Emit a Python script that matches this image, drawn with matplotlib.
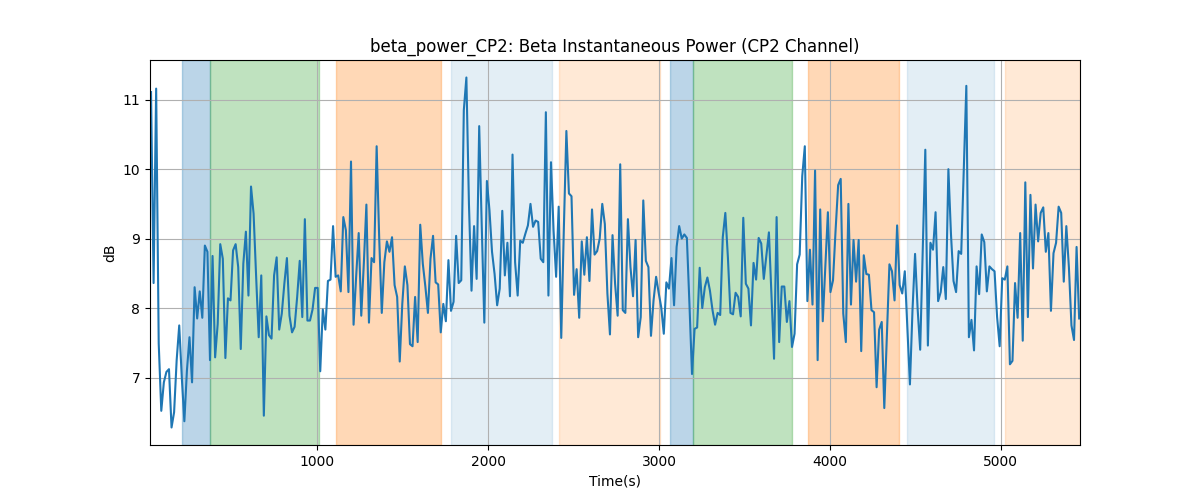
import numpy as np
import matplotlib
matplotlib.use("Agg")
import matplotlib.pyplot as plt

# beta power values (dB), one sample every ~15 s
beta_db = [
    11.11, 8.36, 11.16, 7.49, 6.52, 6.93, 7.08, 7.12, 6.28, 6.50,
    7.25, 7.75, 7.00, 6.37, 7.10, 7.58, 6.93, 8.30, 7.85, 8.24,
    7.86, 8.90, 8.81, 7.25, 8.75, 7.29, 7.77, 8.92, 8.71, 7.28,
    8.14, 8.11, 8.83, 8.92, 8.59, 7.41, 8.64, 9.10, 8.18, 9.75,
    9.36, 8.45, 7.58, 8.47, 6.45, 7.88, 7.61, 7.56, 8.47, 8.73,
    7.69, 7.92, 8.35, 8.72, 7.89, 7.65, 7.73, 8.16, 8.68, 7.87,
    9.28, 7.82, 7.82, 7.98, 8.29, 8.29, 7.09, 7.98, 7.69, 8.39,
    8.41, 9.18, 8.45, 8.47, 8.24, 9.31, 9.12, 8.23, 10.11, 7.76,
    8.45, 9.08, 7.89, 8.64, 9.49, 7.79, 8.72, 8.66, 10.33, 9.00,
    7.93, 8.66, 8.96, 8.81, 9.02, 8.33, 8.16, 7.23, 8.06, 8.60,
    8.33, 7.48, 7.45, 8.16, 7.51, 9.20, 8.64, 8.31, 7.93, 8.71,
    9.04, 8.37, 8.34, 7.65, 8.06, 7.81, 8.69, 7.96, 8.09, 9.04,
    8.36, 8.40, 10.85, 11.32, 9.50, 8.25, 9.18, 8.42, 10.62, 9.17,
    7.79, 9.83, 9.41, 8.81, 8.49, 8.04, 8.28, 9.40, 8.47, 8.94,
    8.17, 10.21, 8.66, 8.18, 8.97, 8.94, 9.07, 9.19, 9.50, 9.17,
    9.26, 9.24, 8.71, 8.66, 10.82, 8.18, 10.10, 9.12, 8.45, 9.46,
    7.57, 9.12, 10.55, 9.65, 9.61, 8.19, 8.56, 7.86, 8.96, 8.48,
    9.02, 8.39, 9.42, 8.77, 8.82, 9.00, 9.50, 9.21, 8.21, 7.62,
    9.05, 8.35, 7.89, 10.07, 7.97, 7.93, 9.28, 8.59, 8.17, 8.98,
    7.58, 7.87, 9.55, 8.68, 8.59, 7.60, 8.11, 8.45, 8.22, 8.01,
    7.63, 8.37, 8.28, 8.72, 8.04, 8.88, 9.18, 9.00, 9.06, 9.01,
    8.06, 7.05, 7.70, 7.72, 8.58, 8.00, 8.30, 8.44, 8.25, 7.97,
    7.76, 7.93, 7.90, 9.02, 9.37, 8.73, 7.93, 7.91, 8.22, 8.16,
    7.88, 9.30, 8.35, 8.28, 7.75, 8.65, 8.41, 9.01, 8.93, 8.42,
    8.76, 9.09, 8.16, 7.27, 9.31, 7.51, 8.31, 8.31, 7.80, 8.10,
    7.44, 7.63, 8.63, 8.77, 9.90, 10.33, 8.10, 8.84, 8.05, 9.98,
    7.25, 9.42, 7.81, 8.59, 9.38, 8.23, 8.40, 9.12, 9.77, 9.86,
    7.92, 7.51, 9.50, 8.05, 8.98, 8.38, 8.98, 7.38, 8.76, 8.49,
    8.48, 7.97, 7.94, 6.86, 7.69, 7.80, 6.56, 7.58, 8.63, 8.53,
    8.11, 9.19, 8.33, 8.21, 8.53, 7.73, 6.90, 7.97, 8.78, 7.99,
    7.40, 8.83, 10.28, 7.46, 8.94, 8.84, 9.38, 8.10, 8.23, 8.59,
    8.13, 10.00, 9.07, 8.39, 8.23, 8.82, 8.78, 9.98, 11.20, 7.58,
    7.83, 7.39, 8.60, 8.20, 9.06, 8.95, 8.24, 8.60, 8.56, 8.53,
    7.87, 7.45, 8.43, 8.41, 8.60, 7.19, 7.24, 8.36, 7.86, 9.08,
    7.53, 9.81, 7.87, 9.63, 8.57, 9.49, 8.96, 9.37, 9.45, 8.81,
    9.08, 7.96, 8.79, 8.94, 9.46, 9.37, 8.38, 9.18, 8.59, 7.75,
    7.54, 8.88, 7.85,
]
t_first = 28
t_step = 15.0
x_min, x_max = 22, 5463

# shaded task blocks: (start, end, colour, alpha)
blocks = [
    (209, 373, "tab:blue", 0.3),
    (373, 1012, "tab:green", 0.3),
    (1111, 1726, "tab:orange", 0.3),
    (1785, 2376, "tab:blue", 0.12),
    (2417, 3003, "tab:orange", 0.17),
    (3062, 3196, "tab:blue", 0.3),
    (3196, 3776, "tab:green", 0.3),
    (3870, 4403, "tab:orange", 0.3),
    (4450, 4959, "tab:blue", 0.12),
    (5024, 5463, "tab:orange", 0.17),
]

time_s = t_first + t_step * np.arange(len(beta_db))

fig, ax = plt.subplots(figsize=(12, 5), dpi=100)

for start, end, col, a in blocks:
    ax.axvspan(start, end, color=col, alpha=a)

ax.plot(time_s, beta_db, color="tab:blue", linewidth=1.5)

ax.set_xlim(x_min, x_max)
ax.grid(True)
ax.set_title("beta_power_CP2: Beta Instantaneous Power (CP2 Channel)")
ax.set_xlabel("Time(s)")
ax.set_ylabel("dB")

plt.savefig("out.png")
